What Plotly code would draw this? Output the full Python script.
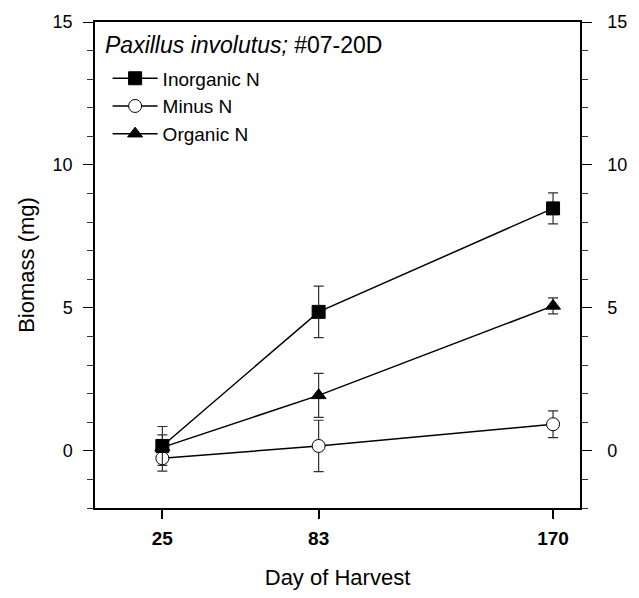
import plotly.graph_objects as go

# ---- data ----
days = [25, 83, 170]
inorganic = [0.17, 4.86, 8.48]
inorganic_err = [0.68, 0.90, 0.54]
minus_n = [-0.26, 0.17, 0.93]
minus_n_err = [0.45, 0.90, 0.47]
organic = [0.12, 1.94, 5.07]
organic_err = [0.44, 0.77, 0.28]
y_ticks = [0, 5, 10, 15]
x_ticks = [25, 83, 170]
x_ticktext = ["25", "83", "170"]

FONT = "Liberation Sans, Arial, sans-serif"

fig = go.Figure()

def add_series(name, y, err, symbol, fill, rank, size):
    fig.add_trace(go.Scatter(
        x=days, y=y, name=name, mode="lines+markers",
        line=dict(color="black", width=1.5),
        marker=dict(symbol=symbol, size=size, color=fill,
                    line=dict(color="black", width=1)),
        error_y=dict(type="data", array=err, visible=True,
                     color="#303030", thickness=1.2, width=5),
        legendrank=rank,
    ))

# draw order: organic, minus, inorganic (inorganic on top)
add_series("Organic N", organic, organic_err, "triangle-up", "black", 3, 13)
add_series("Minus N", minus_n, minus_n_err, "circle", "white", 2, 13)
add_series("Inorganic N", inorganic, inorganic_err, "square", "black", 1, 13)

# invisible trace for right axis
fig.add_trace(go.Scatter(x=[None], y=[None], yaxis="y2", showlegend=False,
                         hoverinfo="skip"))

fig.update_layout(
    width=639, height=598,
    margin=dict(l=95, r=49, t=15, b=89),
    plot_bgcolor="white", paper_bgcolor="white",
    font=dict(family=FONT, color="black"),
    showlegend=True,
    legend=dict(x=0.026, y=0.923, xanchor="left", yanchor="top",
                font=dict(size=19, family=FONT), itemwidth=45,
                bgcolor="rgba(0,0,0,0)", tracegroupgap=0),
    xaxis=dict(range=[0, 180], tickvals=x_ticks, ticktext=x_ticktext,
               ticks="outside", ticklen=9, tickwidth=1.5, tickcolor="black",
               tickfont=dict(size=19, family=FONT, weight="bold"),
               ticklabelstandoff=3,
               showline=True, linecolor="black", linewidth=1.5, mirror=True,
               showgrid=False, zeroline=False,
               title=dict(text="Day of Harvest", font=dict(size=22, family=FONT),
                          standoff=22)),
    yaxis=dict(range=[-2, 15], tickvals=y_ticks,
               ticks="outside", ticklen=10, tickwidth=1.2, tickcolor="black",
               minor=dict(dtick=1, ticks="outside", ticklen=6, tickcolor="#333",
                          tickwidth=1, showgrid=False),
               tickfont=dict(size=18, family=FONT), ticklabelstandoff=7,
               showline=True, linecolor="black", linewidth=1.5,
               showgrid=False, zeroline=False,
               title=dict(text="Biomass (mg)", font=dict(size=22, family=FONT),
                          standoff=12)),
    yaxis2=dict(range=[-2, 15], tickvals=y_ticks, overlaying="y", side="right",
                ticks="outside", ticklen=10, tickwidth=1.2, tickcolor="black",
                minor=dict(dtick=1, ticks="outside", ticklen=6, tickcolor="#333",
                           tickwidth=1, showgrid=False),
                tickfont=dict(size=18, family=FONT), ticklabelstandoff=12,
                showline=True, linecolor="black", linewidth=1.5,
                showgrid=False, zeroline=False),
    annotations=[dict(text="<i>Paxillus involutus;</i> #07-20D",
                      xref="paper", yref="paper", x=0.016, y=0.9534,
                      xanchor="left", yanchor="middle", showarrow=False,
                      font=dict(size=23, family=FONT))],
)

fig.write_html("out.html")
